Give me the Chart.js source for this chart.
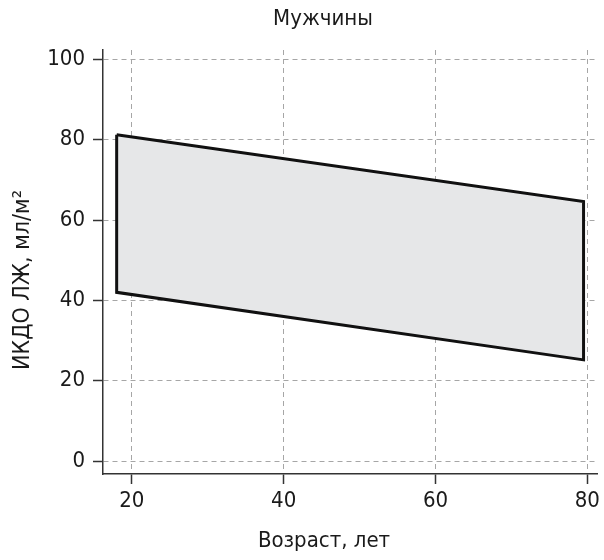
<!DOCTYPE html>
<html><head><meta charset="utf-8">
<script src="https://cdn.jsdelivr.net/npm/chart.js@4/dist/chart.umd.min.js"></script>
<style>html,body{margin:0;padding:0;background:#fff}#wrap{width:604px;height:560px}</style>
</head><body><div id="wrap"><canvas id="c" width="604" height="560"></canvas></div>
<script>
const chartTitle = "Мужчины";
const xTitle = "Возраст, лет";
const yTitle = "ИКДО ЛЖ, мл/м²";
const ages = [18, 79.5, 79.5, 18, 18];
const lvedvi = [81.2, 64.6, 25.2, 42.0, 81.2];
const xTicks = [20, 40, 60, 80];
const yTicks = [0, 20, 40, 60, 80, 100];

const FONT = '"Liberation Sans Narrow", "DejaVu Sans Condensed", "Roboto", sans-serif';

const titles = {
  id: 'titles',
  afterDraw(chart) {
    const ctx = chart.ctx;
    ctx.save();
    ctx.fillStyle = '#1a1a1a';
    ctx.textAlign = 'center';
    ctx.textBaseline = 'middle';
    ctx.font = '22px ' + FONT;
    ctx.fillText(chartTitle, 323, 19);
    ctx.fillText(xTitle, 324, 541);
    ctx.translate(23, 280);
    ctx.rotate(-Math.PI / 2);
    ctx.font = '23px ' + FONT;
    ctx.fillText(yTitle, 0, 0);
    ctx.restore();
  }
};

new Chart(document.getElementById('c'), {
  type: 'scatter',
  data: {
    datasets: [{
      data: ages.map((a, i) => ({x: a, y: lvedvi[i]})),
      showLine: true,
      fill: 'shape',
      backgroundColor: '#e6e7e8',
      borderColor: '#111',
      borderWidth: 3,
      pointRadius: 0,
      tension: 0
    }]
  },
  options: {
    responsive: false,
    animation: false,
    layout: {padding: {left: 0, right: 3, top: 50, bottom: 0}},
    plugins: {legend: {display: false}, tooltip: {enabled: false}},
    scales: {
      x: {
        type: 'linear', min: 16.2, max: 81.3,
        afterBuildTicks: s => { s.ticks = xTicks.map(v => ({value: v})); },
        grid: {color: '#a6a6a6', lineWidth: 1, tickColor: '#333', tickLength: 10, tickWidth: 1.5},
        border: {color: '#333', width: 1.5, dash: [5, 4]},
        ticks: {color: '#1a1a1a', font: {family: FONT, size: 22}, padding: 4},
        afterFit: s => { s.height = 86; }
      },
      y: {
        type: 'linear', min: -3.2, max: 102.3,
        afterBuildTicks: s => { s.ticks = yTicks.map(v => ({value: v})); },
        grid: {color: '#a6a6a6', lineWidth: 1, tickColor: '#333', tickLength: 10, tickWidth: 1.5},
        border: {color: '#333', width: 1.5, dash: [5, 4]},
        ticks: {color: '#1a1a1a', font: {family: FONT, size: 22}, padding: 8},
        afterFit: s => { s.width = 103; }
      }
    }
  },
  plugins: [titles]
});
</script></body></html>
